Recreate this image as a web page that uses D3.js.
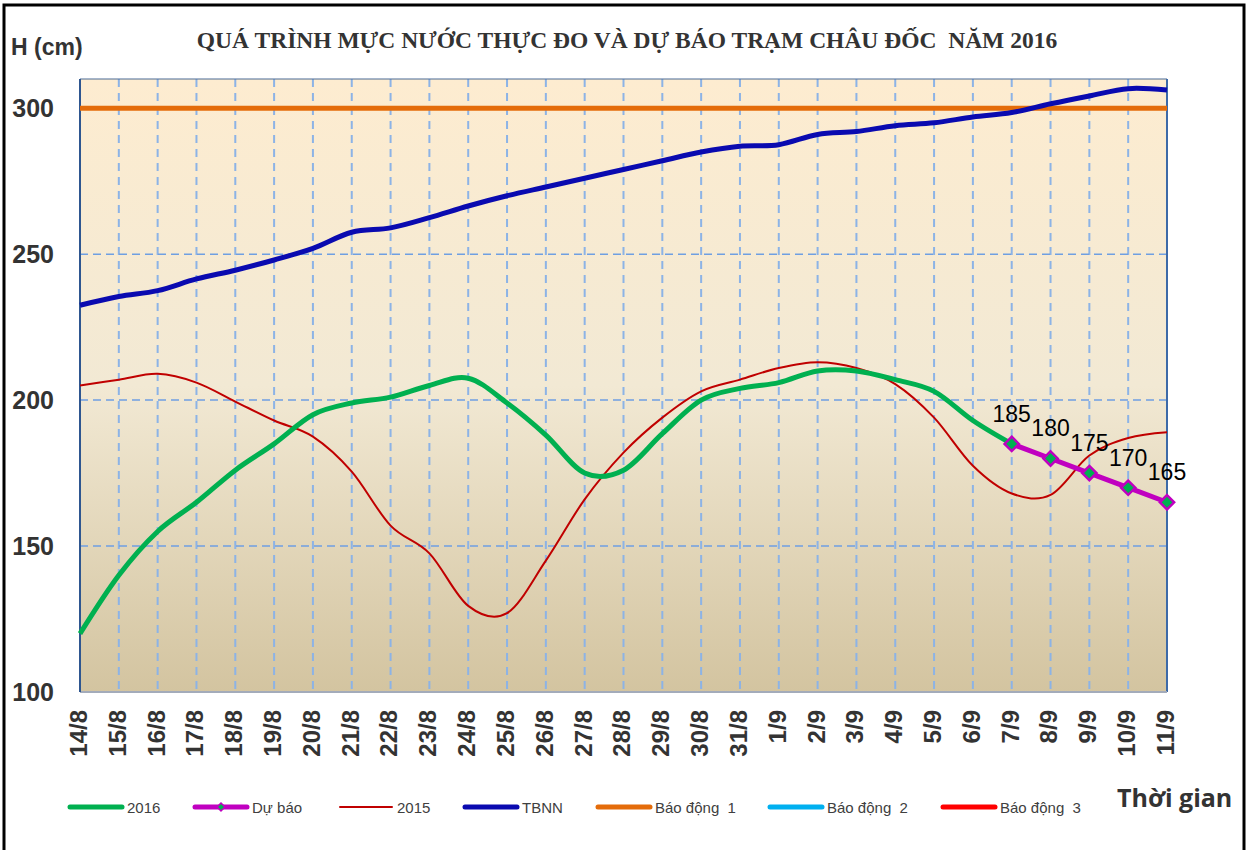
<!DOCTYPE html>
<html lang="vi">
<head>
<meta charset="utf-8">
<title>Mực nước Châu Đốc 2016</title>
<script src="https://cdnjs.cloudflare.com/ajax/libs/d3/7.8.5/d3.min.js"></script>
<style>
  body { margin: 0; background: #fff; }
  svg { display: block; }
  text { white-space: pre; }
</style>
</head>
<body>
<script>
// category labels (ngày)
var days = ["14/8","15/8","16/8","17/8","18/8","19/8","20/8","21/8","22/8","23/8","24/8","25/8","26/8","27/8","28/8","29/8","30/8","31/8",
            "1/9","2/9","3/9","4/9","5/9","6/9","7/9","8/9","9/9","10/9","11/9"];

// thực đo 2016 (tới 7/9)
var h2016 = [120,140,155,165,176,185,195,199,201,205,207.5,199,188,175,176,188.5,200,204,206,210,210,207,203,193,185];
// dự báo, bắt đầu từ 7/9
var forecastDays = ["7/9","8/9","9/9","10/9","11/9"];
var forecast = [185,180,175,170,165];
// năm 2015
var h2015 = [205,207,209,206,199.5,193,187.5,175.5,157,147.5,129.5,127,145,166,182,194,203,207,211,213,211,205.5,194,177.5,168,167.5,181,187,189];
// trung bình nhiều năm
var tbnn = [232.5,235.5,237.5,241.5,244.5,248,252,257.5,259,262.5,266.5,270,273,276,279,282,285,287,287.5,291,292,294,295,297,298.5,301.5,304.2,306.7,306.2];
// báo động 1
var alarm1 = 300;
var yTicks = [100,150,200,250,300];

var w = 1251, h = 850;
var pLeft = 80, pRight = 1167, pTop = 79, pBottom = 692;

var svg = d3.select("body").append("svg").attr("width", w).attr("height", h);

// outer frame
svg.append("rect").attr("x", 4).attr("y", 5).attr("width", 1240).attr("height", 850)
  .attr("fill", "none").attr("stroke", "#000").attr("stroke-width", 3);

var x = d3.scalePoint().domain(days).range([pLeft, pRight]).padding(0);
var y = d3.scaleLinear().domain([100, 310]).range([pBottom, pTop]);

// plot background gradient
var defs = svg.append("defs");
var grad = defs.append("linearGradient").attr("id", "bg").attr("x1", 0).attr("y1", 0).attr("x2", 0).attr("y2", 1);
grad.append("stop").attr("offset", "0%").attr("stop-color", "#fdecd0");
grad.append("stop").attr("offset", "50%").attr("stop-color", "#f2e9d4");
grad.append("stop").attr("offset", "100%").attr("stop-color", "#d3c4a0");

svg.append("rect").attr("x", pLeft).attr("y", pTop).attr("width", pRight - pLeft).attr("height", pBottom - pTop)
  .attr("fill", "url(#bg)");

// grid
svg.append("g").selectAll("line").data(days.slice(1, -1)).enter().append("line")
  .attr("x1", d => x(d)).attr("x2", d => x(d)).attr("y1", pTop).attr("y2", pBottom)
  .attr("stroke", "#8cb3e6").attr("stroke-width", 2).attr("stroke-dasharray", "8,6");
svg.append("g").selectAll("line").data([150, 200, 250]).enter().append("line")
  .attr("x1", pLeft).attr("x2", pRight).attr("y1", d => y(d)).attr("y2", d => y(d))
  .attr("stroke", "#6f9fe2").attr("stroke-width", 1.5).attr("stroke-dasharray", "8,5");

// borders
svg.append("line").attr("x1", pLeft).attr("x2", pRight).attr("y1", pTop).attr("y2", pTop)
  .attr("stroke", "#4a6a95").attr("stroke-width", 1.2);
svg.append("line").attr("x1", pRight).attr("x2", pRight).attr("y1", pTop).attr("y2", pBottom)
  .attr("stroke", "#3d6aa8").attr("stroke-width", 2);
svg.append("line").attr("x1", pLeft).attr("x2", pRight).attr("y1", pBottom).attr("y2", pBottom)
  .attr("stroke", "#a3abba").attr("stroke-width", 2);
svg.append("line").attr("x1", pLeft).attr("x2", pLeft).attr("y1", pTop).attr("y2", pBottom)
  .attr("stroke", "#2e5690").attr("stroke-width", 2);

// axes
var yAxis = svg.append("g").attr("transform", "translate(" + (pLeft - 26) + ",0)")
  .call(d3.axisLeft(y).tickValues(yTicks).tickSize(0).tickPadding(0));
yAxis.select(".domain").remove();
yAxis.selectAll("text").attr("font-family", "Liberation Sans, Arial, sans-serif")
  .attr("font-size", 25).attr("font-weight", "bold").attr("fill", "#333").attr("dy", "0.35em");

var xAxis = svg.append("g").attr("transform", "translate(0," + pBottom + ")")
  .call(d3.axisBottom(x).tickSize(0).tickPadding(0));
xAxis.select(".domain").remove();
xAxis.selectAll("text")
  .attr("font-family", "Liberation Sans, Arial, sans-serif").attr("font-size", 24).attr("font-weight", "bold")
  .attr("fill", "#333").attr("text-anchor", "end")
  .attr("transform", "translate(-2,18) rotate(-90)").attr("y", 0).attr("x", 0).attr("dy", "0.35em");

var curve = d3.curveCatmullRom.alpha(0);
var line = d3.line().x((d, i) => x(days[i])).y(d => y(d)).curve(curve);

// báo động 1
svg.append("line").attr("x1", pLeft).attr("x2", pRight).attr("y1", y(alarm1)).attr("y2", y(alarm1))
  .attr("stroke", "#e46c0a").attr("stroke-width", 5);

svg.append("path").datum(tbnn).attr("d", line).attr("fill", "none")
  .attr("stroke", "#0a0ab0").attr("stroke-width", 5);
svg.append("path").datum(h2015).attr("d", line).attr("fill", "none")
  .attr("stroke", "#c00000").attr("stroke-width", 2);
svg.append("path").datum(h2016).attr("d", line).attr("fill", "none")
  .attr("stroke", "#00b050").attr("stroke-width", 5);

var fLine = d3.line().x((d, i) => x(forecastDays[i])).y(d => y(d));
svg.append("path").datum(forecast).attr("d", fLine).attr("fill", "none")
  .attr("stroke", "#c000c0").attr("stroke-width", 5);

var diamond = d3.symbol().type(d3.symbolDiamond2).size(130);
svg.append("g").selectAll("path").data(forecast).enter().append("path")
  .attr("d", diamond)
  .attr("transform", (d, i) => "translate(" + x(forecastDays[i]) + "," + y(d) + ")")
  .attr("fill", "#00b050").attr("stroke", "#c000c0").attr("stroke-width", 2.5);

svg.append("g").selectAll("text").data(forecast).enter().append("text")
  .attr("x", (d, i) => x(forecastDays[i])).attr("y", d => y(d) - 22)
  .attr("text-anchor", "middle").attr("font-family", "Liberation Sans, Arial, sans-serif")
  .attr("font-size", 23).attr("fill", "#000").text(d => d);

// titles
svg.append("text").attr("x", 627).attr("y", 48).attr("text-anchor", "middle")
  .attr("font-family", "Liberation Serif, Times New Roman, serif").attr("font-size", 23.5).attr("font-weight", "bold")
  .attr("fill", "#333").text("QUÁ TRÌNH MỰC NƯỚC THỰC ĐO VÀ DỰ BÁO TRẠM CHÂU ĐỐC  NĂM 2016");
svg.append("text").attr("x", 11).attr("y", 55)
  .attr("font-family", "Liberation Sans, Arial, sans-serif").attr("font-size", 23).attr("font-weight", "bold")
  .attr("fill", "#333").text("H (cm)");
svg.append("text").attr("x", 1117).attr("y", 807)
  .attr("font-family", "Open Sans, Liberation Sans, sans-serif").attr("font-size", 25).attr("font-weight", "bold")
  .attr("fill", "#333").text("Thời gian");

// legend
var legendItems = [
  { name: "2016", color: "#00b050", width: 5, x: 70 },
  { name: "Dự báo", color: "#c000c0", width: 5, x: 195, marker: true },
  { name: "2015", color: "#c00000", width: 2, x: 340 },
  { name: "TBNN", color: "#0a0ab0", width: 5, x: 465 },
  { name: "Báo động  1", color: "#e46c0a", width: 5, x: 598 },
  { name: "Báo động  2", color: "#00b0f0", width: 5, x: 770 },
  { name: "Báo động  3", color: "#ff0000", width: 5, x: 943 }
];
var lg = svg.append("g").selectAll("g").data(legendItems).enter().append("g")
  .attr("transform", d => "translate(" + d.x + ",807)");
lg.append("line").attr("x1", 0).attr("x2", 52).attr("y1", 0).attr("y2", 0)
  .attr("stroke", d => d.color).attr("stroke-width", d => d.width).attr("stroke-linecap", "round");
lg.filter(d => d.marker).append("path").attr("d", d3.symbol().type(d3.symbolDiamond2).size(40))
  .attr("transform", "translate(26,0)").attr("fill", "#00b050").attr("stroke", "#c000c0").attr("stroke-width", 1.5);
lg.append("text").attr("x", 57).attr("y", 0).attr("dy", "0.38em")
  .attr("font-family", "Liberation Sans, Arial, sans-serif").attr("font-size", 15).attr("fill", "#404040")
  .text(d => d.name);
</script>
</body>
</html>
